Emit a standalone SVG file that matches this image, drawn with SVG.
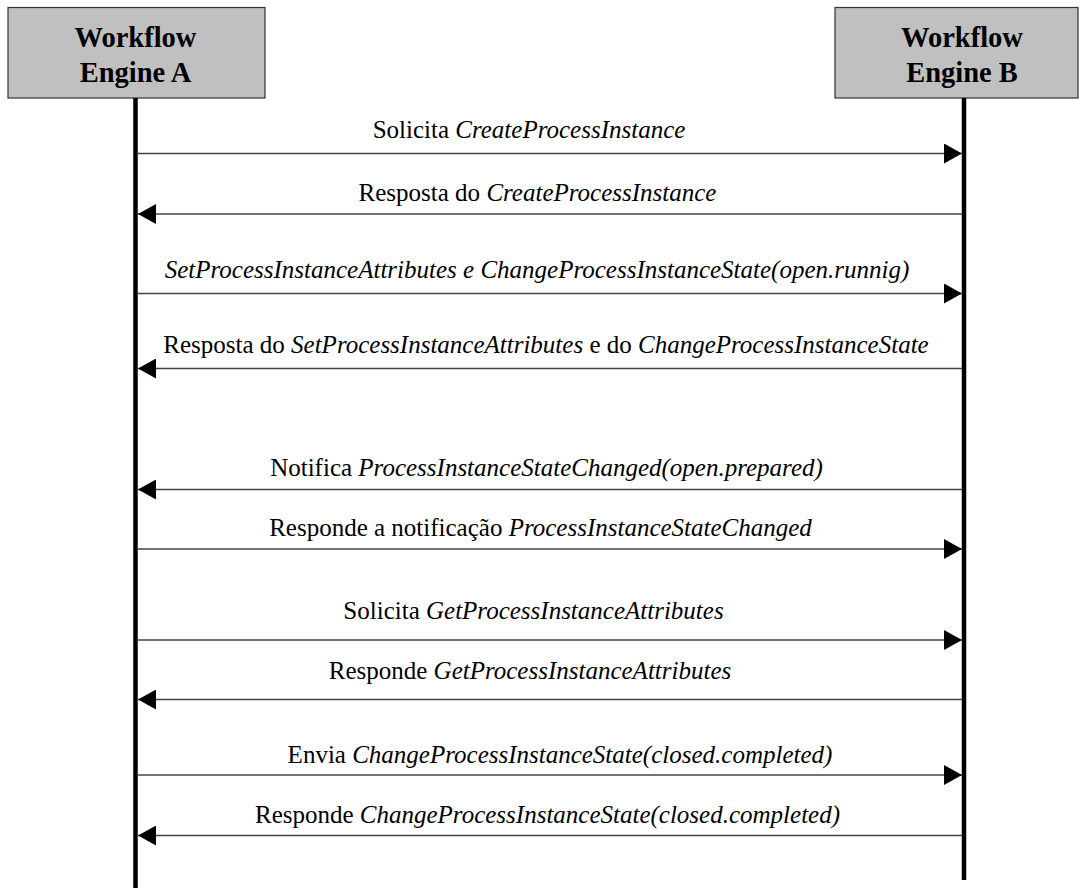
<svg xmlns="http://www.w3.org/2000/svg" width="1080" height="891" viewBox="0 0 1080 891">
  <style>
    .box { fill: #c0c0c0; stroke: #333; stroke-width: 1.2; }
    .title { font-family: "Liberation Serif", "Times New Roman", serif; font-weight: bold; font-size: 28.5px; fill: #000; text-anchor: middle; }
    .life { stroke: #000; stroke-width: 4.5; }
    .msg { stroke: #444; stroke-width: 1.5; fill: none; marker-end: url(#head); }
    .lbl { font-family: "Liberation Serif", "Times New Roman", serif; font-size: 25px; fill: #000; text-anchor: middle; }
    .it { font-style: italic; }
  </style>
  <defs>
    <marker id="head" markerUnits="userSpaceOnUse" markerWidth="18" markerHeight="20" viewBox="0 0 18 20" refX="18" refY="10" orient="auto">
      <path d="M0,0 L18,10 L0,20 Z" fill="#000"/>
    </marker>
  </defs>
  <rect width="1080" height="891" fill="#fff"/>

  <!-- participant A -->
  <g id="engine-a">
    <rect class="box" x="8" y="7.5" width="257" height="90.5"/>
    <text class="title" x="135.5" y="47">Workflow</text>
    <text class="title" x="135.5" y="82">Engine A</text>
    <line class="life" x1="135.5" y1="98" x2="135.5" y2="888"/>
  </g>

  <!-- participant B -->
  <g id="engine-b">
    <rect class="box" x="835" y="7.5" width="243" height="90.5"/>
    <text class="title" x="962" y="47">Workflow</text>
    <text class="title" x="962" y="82">Engine B</text>
    <line class="life" x1="964" y1="98" x2="964" y2="880"/>
  </g>

  <!-- messages -->
  <g id="messages">
    <line class="msg" x1="138" y1="153.5" x2="962" y2="153.5"/>
    <text class="lbl" x="529" y="138">Solicita <tspan class="it">CreateProcessInstance</tspan></text>

    <line class="msg" x1="962" y1="214" x2="138" y2="214"/>
    <text class="lbl" x="537.5" y="201">Resposta do <tspan class="it">CreateProcessInstance</tspan></text>

    <line class="msg" x1="138" y1="293.5" x2="962" y2="293.5"/>
    <text class="lbl it" x="537" y="278">SetProcessInstanceAttributes e ChangeProcessInstanceState(open.runnig)</text>

    <line class="msg" x1="962" y1="368.5" x2="138" y2="368.5"/>
    <text class="lbl" x="546" y="353">Resposta do <tspan class="it">SetProcessInstanceAttributes</tspan> e do <tspan class="it">ChangeProcessInstanceState</tspan></text>

    <line class="msg" x1="962" y1="489.5" x2="138" y2="489.5"/>
    <text class="lbl" x="546.5" y="476">Notifica <tspan class="it">ProcessInstanceStateChanged(open.prepared)</tspan></text>

    <line class="msg" x1="138" y1="549" x2="962" y2="549"/>
    <text class="lbl" x="540.5" y="536">Responde a notificação <tspan class="it">ProcessInstanceStateChanged</tspan></text>

    <line class="msg" x1="138" y1="640" x2="962" y2="640"/>
    <text class="lbl" x="533.5" y="619">Solicita <tspan class="it">GetProcessInstanceAttributes</tspan></text>

    <line class="msg" x1="962" y1="699.5" x2="138" y2="699.5"/>
    <text class="lbl" x="530" y="679">Responde <tspan class="it">GetProcessInstanceAttributes</tspan></text>

    <line class="msg" x1="138" y1="775" x2="962" y2="775"/>
    <text class="lbl" x="560" y="763">Envia <tspan class="it">ChangeProcessInstanceState(closed.completed)</tspan></text>

    <line class="msg" x1="962" y1="835.5" x2="138" y2="835.5"/>
    <text class="lbl" x="547.5" y="823">Responde <tspan class="it">ChangeProcessInstanceState(closed.completed)</tspan></text>
  </g>
</svg>
